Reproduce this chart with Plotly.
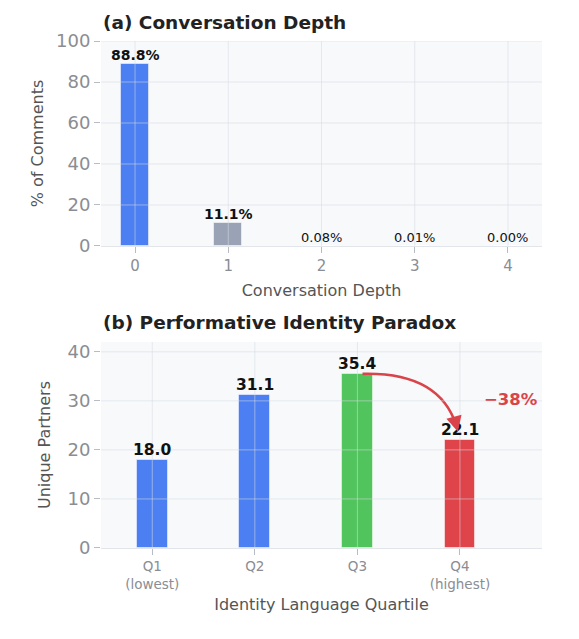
import plotly.graph_objects as go
from plotly.subplots import make_subplots

# ---- data ----
depth_levels = [0, 1, 2, 3, 4]
depth_labels = ["0", "1", "2", "3", "4"]
depth_pct = [88.8, 11.1, 0.08, 0.01, 0.00]
depth_text = ["88.8%", "11.1%", "0.08%", "0.01%", "0.00%"]

quartile_pos = [0, 1, 2, 3]
quartile_labels = ["Q1<br>(lowest)", "Q2", "Q3", "Q4<br>(highest)"]
partners = [18.0, 31.1, 35.4, 22.1]
partner_text = ["18.0", "31.1", "35.4", "22.1"]

top_yticks = [0, 20, 40, 60, 80, 100]
bot_yticks = [0, 10, 20, 30, 40]

# ---- styles ----
BLUE = "#4C7FF1"
GRAY = "#9AA2B5"
GREEN = "#52C45D"
RED = "#E0444B"
FONT = "DejaVu Sans"
BG = "#F8F9FB"
GRID = "rgba(214,218,226,0.55)"

depth_colors = [BLUE, GRAY, GRAY, GRAY, GRAY]
quart_colors = [BLUE, BLUE, GREEN, RED]

fig = make_subplots(rows=2, cols=1, vertical_spacing=0.19)

fig.add_trace(go.Bar(x=depth_levels, y=depth_pct, width=0.3,
                     marker=dict(color=depth_colors,
                                 line=dict(color="rgba(255,255,255,0.5)", width=1)),
                     showlegend=False, hoverinfo="skip"), row=1, col=1)
fig.add_trace(go.Bar(x=quartile_pos, y=partners, width=0.3,
                     marker=dict(color=quart_colors,
                                 line=dict(color="rgba(255,255,255,0.5)", width=1)),
                     showlegend=False, hoverinfo="skip"), row=2, col=1)

ann = []
# bar labels top
for x, v, t in zip(depth_levels, depth_pct, depth_text):
    big = v >= 1
    ann.append(dict(x=x, y=v, xref="x", yref="y", text=f"<b>{t}</b>" if big else t,
                    showarrow=False, yanchor="bottom", yshift=-1,
                    font=dict(family=FONT, size=14 if big else 13, color="#111")))
for x, v, t in zip(quartile_pos, partners, partner_text):
    ann.append(dict(x=x, y=v, xref="x2", yref="y2", text=f"<b>{t}</b>",
                    showarrow=False, yanchor="bottom", yshift=-1,
                    font=dict(family=FONT, size=15.5, color="#111")))

# titles
ann.append(dict(x=0, y=1.036, xref="paper", yref="paper", xanchor="left", yanchor="middle",
                text="<b>(a) Conversation Depth</b>", showarrow=False,
                font=dict(family=FONT, size=18.5, color="#222")))
ann.append(dict(x=0, y=0.444, xref="paper", yref="paper", xanchor="left", yanchor="middle",
                text="<b>(b) Performative Identity Paradox</b>", showarrow=False,
                font=dict(family=FONT, size=18.5, color="#222")))

# change annotation
q3, q4 = partners[2], partners[3]
change = round((q4 - q3) / q3 * 100)
ann.append(dict(x=3.5, y=30.2, xref="x2", yref="y2", showarrow=False,
                text=f"<b>\u2212{abs(change)}%</b>",
                font=dict(family=FONT, size=16.5, color="#D9444B")))
# arrowhead
ann.append(dict(x=2.98, y=q4 + 1.6, ax=2.955, ay=q4 + 3.6, xref="x2", yref="y2",
                axref="x2", ayref="y2", showarrow=True, arrowhead=2, arrowsize=1.2,
                arrowwidth=2.6, arrowcolor="#D9444B", text=""))

shapes = []
# curved arrow body
shapes.append(dict(type="path", xref="x2", yref="y2",
                   path=f"M 2.05,{q3 + 0.1} Q 2.8,{q3 + 0.5} 2.965,{q4 + 2.8}",
                   line=dict(color="#D9444B", width=2.6), layer="above"))

# grid lines drawn above bars (matplotlib-like)
for xv in depth_levels:
    shapes.append(dict(type="line", xref="x", yref="y domain", x0=xv, x1=xv, y0=0, y1=1,
                       line=dict(color=GRID, width=1), layer="above"))
for yv in top_yticks[1:]:
    shapes.append(dict(type="line", xref="x domain", yref="y", x0=0, x1=1, y0=yv, y1=yv,
                       line=dict(color=GRID, width=1), layer="above"))
for xv in quartile_pos:
    shapes.append(dict(type="line", xref="x2", yref="y2 domain", x0=xv, x1=xv, y0=0, y1=1,
                       line=dict(color=GRID, width=1), layer="above"))
for yv in bot_yticks[1:]:
    shapes.append(dict(type="line", xref="x2 domain", yref="y2", x0=0, x1=1, y0=yv, y1=yv,
                       line=dict(color=GRID, width=1), layer="above"))

fig.update_layout(
    width=579, height=639,
    margin=dict(l=101, r=37, t=41, b=91),
    paper_bgcolor="white", plot_bgcolor=BG,
    font=dict(family=FONT, color="#555"),
    bargap=0, annotations=ann, shapes=shapes,
)

tick_common = dict(showgrid=False, zeroline=False, ticks="outside", ticklen=6,
                   tickcolor="#B8BCC4", tickwidth=1)

fig.update_xaxes(row=1, col=1, range=[-0.365, 4.365], tickvals=depth_levels,
                 ticktext=depth_labels, showline=True, linecolor="#E2E5EA",
                 tickfont=dict(family=FONT, size=15, color="#8A8D93"),
                 title=dict(text="Conversation Depth", standoff=10,
                            font=dict(family=FONT, size=16, color="#555")),
                 **tick_common)
fig.update_yaxes(row=1, col=1, range=[0, 100], tickvals=top_yticks, showline=False,
                 tickfont=dict(family=FONT, size=18, color="#8A8D93"),
                 title=dict(text="% of Comments", standoff=8,
                            font=dict(family=FONT, size=16, color="#555")),
                 **tick_common)
fig.update_xaxes(row=2, col=1, range=[-0.5, 3.8], tickvals=quartile_pos,
                 ticktext=quartile_labels, showline=True, linecolor="#E2E5EA",
                 tickfont=dict(family=FONT, size=13.5, color="#8A8D93"),
                 title=dict(text="Identity Language Quartile", standoff=8,
                            font=dict(family=FONT, size=16, color="#555")),
                 **tick_common)
fig.update_yaxes(row=2, col=1, range=[0, 42], tickvals=bot_yticks, showline=False,
                 tickfont=dict(family=FONT, size=18, color="#8A8D93"),
                 title=dict(text="Unique Partners", standoff=12,
                            font=dict(family=FONT, size=16, color="#555")),
                 **tick_common)

fig.update_layout(yaxis=dict(domain=[0.5957, 1.0]), yaxis2=dict(domain=[0.0, 0.4063]))

fig.write_html("out.html")
